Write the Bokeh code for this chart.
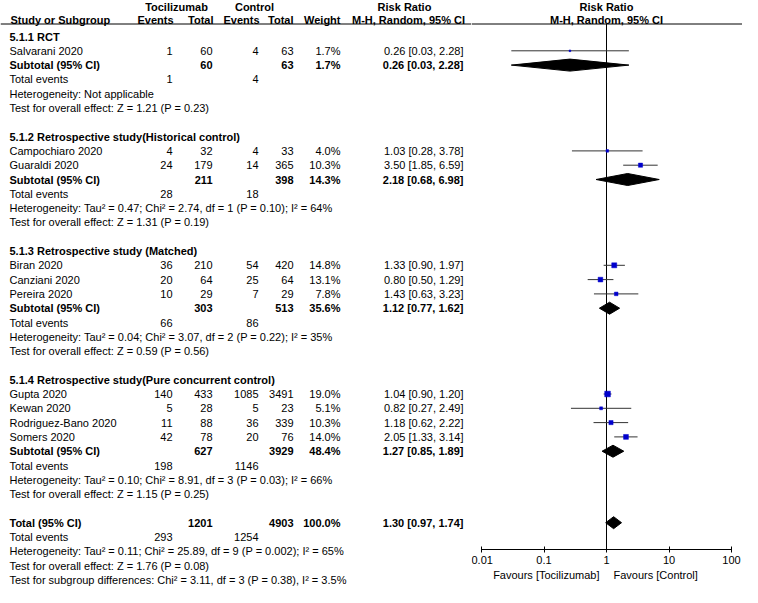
import math
from bokeh.plotting import figure
from bokeh.layouts import row
from bokeh.models import ColumnDataSource, Range1d, Span, LogAxis, FixedTicker, CustomJSTickFormatter
from bokeh.core.properties import value
from bokeh.embed import file_html
from bokeh.resources import INLINE

# ---------------- data ----------------
subgroup_titles = [
    "5.1.1 RCT",
    "5.1.2 Retrospective study(Historical control)",
    "5.1.3 Retrospective study (Matched)",
    "5.1.4 Retrospective study(Pure concurrent control)",
]
study_names = ["Salvarani 2020", "Campochiaro 2020", "Guaraldi 2020", "Biran 2020",
               "Canziani 2020", "Pereira 2020", "Gupta 2020", "Kewan 2020",
               "Rodriguez-Bano 2020", "Somers 2020"]
study_group = [0, 1, 1, 2, 2, 2, 3, 3, 3, 3]
toc_events = [1, 4, 24, 36, 20, 10, 140, 5, 11, 42]
toc_total = [60, 32, 179, 210, 64, 29, 433, 28, 88, 78]
ctl_events = [4, 4, 14, 54, 25, 7, 1085, 5, 36, 20]
ctl_total = [63, 33, 365, 420, 64, 29, 3491, 23, 339, 76]
weights = [1.7, 4.0, 10.3, 14.8, 13.1, 7.8, 19.0, 5.1, 10.3, 14.0]
rr = [0.26, 1.03, 3.50, 1.33, 0.80, 1.43, 1.04, 0.82, 1.18, 2.05]
rr_lo = [0.03, 0.28, 1.85, 0.90, 0.50, 0.63, 0.90, 0.27, 0.62, 1.33]
rr_hi = [2.28, 3.78, 6.59, 1.97, 1.29, 3.23, 1.20, 2.49, 2.22, 3.14]

sub_toc_total = [60, 211, 303, 627]
sub_ctl_total = [63, 398, 513, 3929]
sub_weight = [1.7, 14.3, 35.6, 48.4]
sub_rr = [0.26, 2.18, 1.12, 1.27]
sub_lo = [0.03, 0.68, 0.77, 0.85]
sub_hi = [2.28, 6.98, 1.62, 1.89]
sub_toc_events = [1, 28, 66, 198]
sub_ctl_events = [4, 18, 86, 1146]
sub_heterogeneity = [
    "Heterogeneity: Not applicable",
    "Heterogeneity: Tau\u00b2 = 0.47; Chi\u00b2 = 2.74, df = 1 (P = 0.10); I\u00b2 = 64%",
    "Heterogeneity: Tau\u00b2 = 0.04; Chi\u00b2 = 3.07, df = 2 (P = 0.22); I\u00b2 = 35%",
    "Heterogeneity: Tau\u00b2 = 0.10; Chi\u00b2 = 8.91, df = 3 (P = 0.03); I\u00b2 = 66%",
]
sub_effect = [
    "Test for overall effect: Z = 1.21 (P = 0.23)",
    "Test for overall effect: Z = 1.31 (P = 0.19)",
    "Test for overall effect: Z = 0.59 (P = 0.56)",
    "Test for overall effect: Z = 1.15 (P = 0.25)",
]

total_toc_total = 1201
total_ctl_total = 4903
total_weight = 100.0
total_rr = 1.30
total_lo = 0.97
total_hi = 1.74
total_toc_events = 293
total_ctl_events = 1254
total_heterogeneity = "Heterogeneity: Tau\u00b2 = 0.11; Chi\u00b2 = 25.89, df = 9 (P = 0.002); I\u00b2 = 65%"
total_effect = "Test for overall effect: Z = 1.76 (P = 0.08)"
subgroup_difference = "Test for subgroup differences: Chi\u00b2 = 3.11, df = 3 (P = 0.38), I\u00b2 = 3.5%"

axis_ticks = [0.01, 0.1, 1, 10, 100]
null_effect = 1
favours_left = "Favours [Tocilizumab]"
favours_right = "Favours [Control]"

# ---------------- layout constants ----------------
FONT = value("Liberation Sans")
FS = value("11px")
ROW_H = 14.3
TOP = 36.0
FIG_H = 587
LEFT_W = 471
RIGHT_W = 271
X1_PX = 135.0
DECADE = 62.5


def row_of(px):
    return (px - TOP) / ROW_H


Y_START = row_of(FIG_H)
Y_END = row_of(0)
HDR1 = row_of(6)
HDR2 = row_of(19)
LINE_R = row_of(23.5)
AXIS_R = row_of(549)
FAV_R = row_of(574)
DIAMOND_H = 6.0 / ROW_H

NAME_X = 9
TOC_EV_X = 172
TOC_TOT_X = 212
CTL_EV_X = 258
CTL_TOT_X = 293
WEIGHT_X = 340
RR_X = 463


def new_src():
    return dict(x=[], y=[], text=[])


ln, lb, rn, rb, cb = new_src(), new_src(), new_src(), new_src(), new_src()


def put(d, x, y, t):
    d["x"].append(x)
    d["y"].append(y)
    d["text"].append(t)


def ci_text(a, b, c):
    return f"{a:.2f} [{b:.2f}, {c:.2f}]"


# headers
put(cb, 176, HDR1, "Tocilizumab")
put(cb, 254, HDR1, "Control")
put(cb, 404, HDR1, "Risk Ratio")
put(lb, NAME_X + 1, HDR2, "Study or Subgroup")
put(rb, TOC_EV_X + 1, HDR2, "Events")
put(rb, TOC_TOT_X + 1, HDR2, "Total")
put(rb, CTL_EV_X + 1, HDR2, "Events")
put(rb, CTL_TOT_X, HDR2, "Total")
put(rb, WEIGHT_X, HDR2, "Weight")
put(cb, 408, HDR2, "M-H, Random, 95% CI")

study_y = []
dia_xs, dia_ys = [], []


def diamond(r, lo, mid, hi):
    dia_xs.append([lo, mid, hi, mid])
    dia_ys.append([r, r - DIAMOND_H, r, r + DIAMOND_H])


r = 0
for g in range(len(subgroup_titles)):
    put(lb, NAME_X, r, subgroup_titles[g])
    r += 1
    for i in range(len(study_names)):
        if study_group[i] != g:
            continue
        put(ln, NAME_X, r, study_names[i])
        put(rn, TOC_EV_X, r, str(toc_events[i]))
        put(rn, TOC_TOT_X, r, str(toc_total[i]))
        put(rn, CTL_EV_X, r, str(ctl_events[i]))
        put(rn, CTL_TOT_X, r, str(ctl_total[i]))
        put(rn, WEIGHT_X, r, f"{weights[i]:.1f}%")
        put(rn, RR_X, r, ci_text(rr[i], rr_lo[i], rr_hi[i]))
        study_y.append(r)
        r += 1
    put(lb, NAME_X, r, "Subtotal (95% CI)")
    put(rb, TOC_TOT_X, r, str(sub_toc_total[g]))
    put(rb, CTL_TOT_X, r, str(sub_ctl_total[g]))
    put(rb, WEIGHT_X, r, f"{sub_weight[g]:.1f}%")
    put(rb, RR_X, r, ci_text(sub_rr[g], sub_lo[g], sub_hi[g]))
    diamond(r, sub_lo[g], sub_rr[g], sub_hi[g])
    r += 1
    put(ln, NAME_X, r, "Total events")
    put(rn, TOC_EV_X, r, str(sub_toc_events[g]))
    put(rn, CTL_EV_X, r, str(sub_ctl_events[g]))
    r += 1
    put(ln, NAME_X, r, sub_heterogeneity[g])
    r += 1
    put(ln, NAME_X, r, sub_effect[g])
    r += 2

put(lb, NAME_X, r, "Total (95% CI)")
put(rb, TOC_TOT_X, r, str(total_toc_total))
put(rb, CTL_TOT_X, r, str(total_ctl_total))
put(rb, WEIGHT_X, r, f"{total_weight:.1f}%")
put(rb, RR_X, r, ci_text(total_rr, total_lo, total_hi))
diamond(r, total_lo, total_rr, total_hi)
r += 1
put(ln, NAME_X, r, "Total events")
put(rn, TOC_EV_X, r, str(total_toc_events))
put(rn, CTL_EV_X, r, str(total_ctl_events))
r += 1
put(ln, NAME_X, r, total_heterogeneity)
r += 1
put(ln, NAME_X, r, total_effect)
r += 1
put(ln, NAME_X, r, subgroup_difference)

# ---------------- left (table) figure ----------------
y_range = Range1d(start=Y_START, end=Y_END)
pl = figure(width=LEFT_W, height=FIG_H, x_range=Range1d(0, LEFT_W), y_range=y_range,
            x_axis_location=None, y_axis_location=None, toolbar_location=None,
            output_backend="svg", min_border=0, title=None, outline_line_color=None)
pl.grid.grid_line_color = None

for d, align, style in [(ln, "left", "normal"), (lb, "left", "bold"), (rn, "right", "normal"),
                        (rb, "right", "bold"), (cb, "center", "bold")]:
    pl.text(x="x", y="y", text="text", source=ColumnDataSource(d), text_align=align,
            text_baseline="middle", text_font=FONT, text_font_size=FS,
            text_font_style=style, text_color="black")

pl.add_layout(Span(location=LINE_R, dimension="width", line_color="black", line_width=1))

# ---------------- right (forest) figure ----------------
x_start = 10 ** (-X1_PX / DECADE)
x_end = 10 ** ((RIGHT_W - X1_PX) / DECADE)
pr = figure(width=RIGHT_W, height=FIG_H, x_axis_type="log", x_range=Range1d(x_start, x_end),
            y_range=y_range, x_axis_location=None, y_axis_location=None,
            toolbar_location=None, output_backend="svg", min_border=0, title=None,
            outline_line_color=None)
pr.grid.grid_line_color = None
pr.add_layout(Span(location=LINE_R, dimension="width", line_color="black", line_width=1))

pr.text(x=[null_effect, null_effect], y=[HDR1, HDR2], text=["Risk Ratio", "M-H, Random, 95% CI"],
        text_align="center", text_baseline="middle", text_font=FONT, text_font_size=FS,
        text_font_style="bold", text_color="black")

pr.segment(x0=[null_effect], y0=[LINE_R], x1=[null_effect], y1=[AXIS_R],
           line_color="black", line_width=1)

pr.segment(x0=rr_lo, x1=rr_hi, y0=study_y, y1=study_y, line_color="#333333", line_width=1)
pr.scatter(x=rr, y=study_y, size=[1.3 * math.sqrt(w) for w in weights], marker="square",
           fill_color="#0000cc", line_color="#0000cc", line_width=0.5)
pr.patches(xs=dia_xs, ys=dia_ys, fill_color="black", line_color="black", line_width=1)

ax = LogAxis(ticker=FixedTicker(ticks=axis_ticks),
             formatter=CustomJSTickFormatter(code="return tick.toString()"),
             fixed_location=AXIS_R, bounds=(axis_ticks[0], axis_ticks[-1]))
ax.major_tick_in = 3
ax.major_tick_out = 3
ax.minor_tick_line_color = None
ax.axis_line_color = "black"
ax.major_tick_line_color = "black"
ax.major_label_text_font = "Liberation Sans"
ax.major_label_text_font_size = "11px"
ax.major_label_text_color = "black"
ax.major_label_standoff = 3
pr.add_layout(ax, "below")

pr.text(x=[null_effect], y=[FAV_R], text=[favours_left], text_align="right", x_offset=-7,
        text_baseline="middle", text_font=FONT, text_font_size=FS, text_color="black")
pr.text(x=[null_effect], y=[FAV_R], text=[favours_right], text_align="left", x_offset=7,
        text_baseline="middle", text_font=FONT, text_font_size=FS, text_color="black")

layout = row(pl, pr)
open("out.html", "w").write(file_html(layout, INLINE))
